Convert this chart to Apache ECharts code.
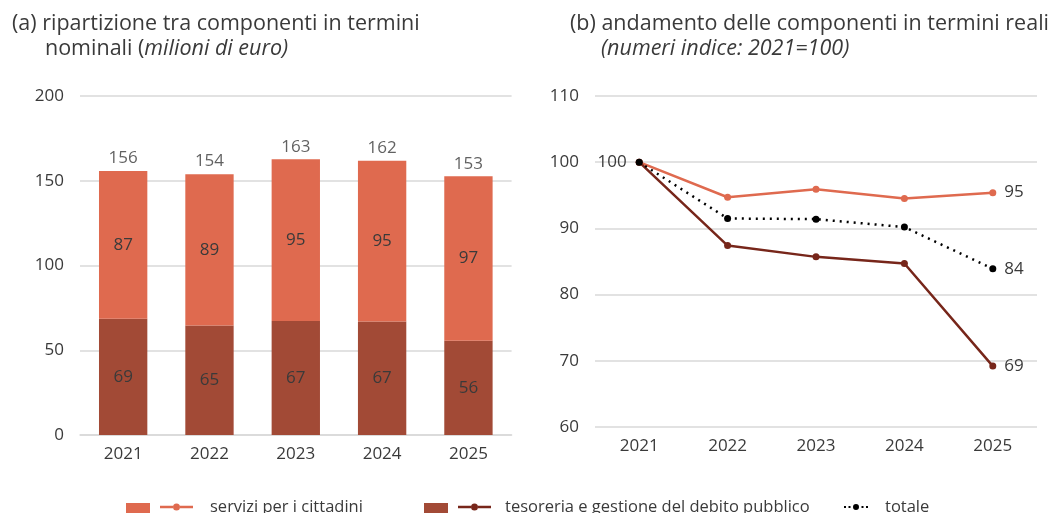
<!DOCTYPE html>
<html>
<head>
<meta charset="utf-8">
<script src="https://cdn.jsdelivr.net/npm/echarts@6/dist/echarts.min.js"></script>
<style>
html,body{margin:0;padding:0;background:#fff;}
#c{width:1051px;height:513px;}
</style>
</head>
<body>
<div id="c"></div>
<script>
// ---- data ----
const years = ['2021', '2022', '2023', '2024', '2025'];
const barServizi = [87.2, 89.3, 95.4, 94.9, 97.1];
const barTesoreria = [68.6, 64.6, 67.3, 66.9, 55.6];
const idxServizi = [100, 94.7, 95.9, 94.5, 95.4];
const idxTesoreria = [100, 87.4, 85.7, 84.7, 69.2];
const idxTotale = [100, 91.5, 91.4, 90.2, 83.9];
const leftTicks = [0, 50, 100, 150, 200];
const rightTicks = [60, 70, 80, 90, 100, 110];

const nameServ = 'servizi per i cittadini';
const nameTes = 'tesoreria e gestione del debito pubblico';
const nameTot = 'totale';
const SFX = ' (indice)';

const C_SERV = '#DF6A4F';
const C_TES = '#A24A36';
const C_TES_LINE = '#77261A';
const TXT = '#3a3a3a';
const FONT = '"Open Sans", sans-serif';
const GRIDC = '#d9d9d9';
const FS = 17;

const totals = barServizi.map((v, i) => v + barTesoreria[i]);

// legend icon shapes
const ICON_LINE = 'path://M0,4.8 L13,4.8 L13,7.2 L0,7.2 Z M20,4.8 L33,4.8 L33,7.2 L20,7.2 Z M13,6 A3.5,3.5 0 1,1 20,6 A3.5,3.5 0 1,1 13,6 Z';
const ICON_DOT = 'path://M0,5 L2,5 L2,7 L0,7 Z M4.5,5 L6.5,5 L6.5,7 L4.5,7 Z M17.5,5 L19.5,5 L19.5,7 L17.5,7 Z M22,5 L24,5 L24,7 L22,7 Z M9,6 A3,3 0 1,1 15,6 A3,3 0 1,1 9,6 Z';

const chart = echarts.init(document.getElementById('c'));

function legendItem(name, left, top, text, icon, w, h, gap) {
  return {
    data: [name],
    left: left,
    top: top,
    padding: 0,
    icon: icon,
    itemWidth: w,
    itemHeight: h,
    selectedMode: false,
    textStyle: { color: TXT, fontFamily: FONT, fontSize: 16.5, lineHeight: 20, padding: [0, 0, 0, gap] },
    formatter: () => text
  };
}

chart.setOption({
  animation: false,
  textStyle: { fontFamily: FONT },
  title: [
    { text: '(a) ripartizione tra componenti in termini', left: 7, top: 8,
      textStyle: { color: TXT, fontFamily: FONT, fontSize: 21.5, fontWeight: 'normal' } },
    { text: '{n|nominali (}{i|milioni di euro)}', left: 40, top: 33,
      textStyle: { rich: {
        n: { color: TXT, fontFamily: FONT, fontSize: 21.5, fontWeight: 'normal' },
        i: { color: TXT, fontFamily: FONT, fontSize: 21.5, fontWeight: 'normal', fontStyle: 'italic' } } } },
    { text: '(b) andamento delle componenti in termini reali', left: 565, top: 8,
      textStyle: { color: TXT, fontFamily: FONT, fontSize: 21.5, fontWeight: 'normal' } },
    { text: '(numeri indice: 2021=100)', left: 596, top: 33,
      textStyle: { color: TXT, fontFamily: FONT, fontSize: 21.5, fontWeight: 'normal', fontStyle: 'italic' } }
  ],
  legend: [
    legendItem(nameServ, 126, 503, '', 'rect', 24, 10, 0),
    legendItem(nameServ + SFX, 160, 497, nameServ, ICON_LINE, 33, 7, 12),
    legendItem(nameTes, 424, 503, '', 'rect', 24, 10, 0),
    legendItem(nameTes + SFX, 458, 497, nameTes, ICON_LINE, 33, 7, 9),
    legendItem(nameTot, 844, 497, nameTot, ICON_DOT, 24, 6, 12)
  ],
  grid: [
    { left: 80, right: 1051 - 511.6, top: 96, bottom: 513 - 435 },
    { left: 595, right: 1051 - 1037, top: 96, bottom: 513 - 427 }
  ],
  xAxis: [
    { type: 'category', gridIndex: 0, data: years,
      axisLine: { lineStyle: { color: GRIDC, width: 1.5 } }, axisTick: { show: false },
      axisLabel: { color: TXT, fontSize: FS, margin: 11, fontFamily: FONT } },
    { type: 'category', gridIndex: 1, data: years,
      axisLine: { show: false }, axisTick: { show: false },
      axisLabel: { color: TXT, fontSize: FS, margin: 11, fontFamily: FONT } }
  ],
  yAxis: [
    { type: 'value', gridIndex: 0, min: leftTicks[0], max: leftTicks[leftTicks.length - 1], interval: 50,
      axisLine: { show: false }, axisTick: { show: false },
      splitLine: { lineStyle: { color: GRIDC, width: 1.5 } },
      axisLabel: { color: TXT, fontSize: FS, margin: 16, fontFamily: FONT } },
    { type: 'value', gridIndex: 1, min: rightTicks[0], max: rightTicks[rightTicks.length - 1], interval: 10,
      axisLine: { show: false }, axisTick: { show: false },
      splitLine: { lineStyle: { color: GRIDC, width: 1.5 } },
      axisLabel: { color: TXT, fontSize: FS, margin: 16, fontFamily: FONT } }
  ],
  series: [
    { name: nameTes, type: 'bar', stack: 'a', xAxisIndex: 0, yAxisIndex: 0,
      data: barTesoreria, barWidth: '56%',
      itemStyle: { color: C_TES },
      label: { show: true, position: 'inside', color: TXT, fontSize: FS, fontFamily: FONT,
        formatter: p => Math.round(p.value) } },
    { name: nameServ, type: 'bar', stack: 'a', xAxisIndex: 0, yAxisIndex: 0,
      data: barServizi, barWidth: '56%',
      itemStyle: { color: C_SERV },
      label: { show: true, position: 'inside', color: TXT, fontSize: FS, fontFamily: FONT,
        formatter: p => Math.round(p.value) } },
    { name: 'totali', type: 'scatter', xAxisIndex: 0, yAxisIndex: 0,
      data: totals, symbolSize: 0, silent: true,
      label: { show: true, position: 'top', distance: 4, color: TXT, fontSize: FS, fontFamily: FONT,
        formatter: p => Math.round(p.value) } },
    { name: nameServ + SFX, type: 'line', xAxisIndex: 1, yAxisIndex: 1,
      data: idxServizi, symbol: 'circle', symbolSize: 7, z: 3,
      lineStyle: { color: C_SERV, width: 2.5 }, itemStyle: { color: C_SERV },
      label: { show: true, color: TXT, fontSize: FS, fontFamily: FONT,
        position: 'right', distance: 8,
        formatter: p => (p.dataIndex === idxServizi.length - 1 ? Math.round(p.value) : '') } },
    { name: nameTes + SFX, type: 'line', xAxisIndex: 1, yAxisIndex: 1,
      data: idxTesoreria, symbol: 'circle', symbolSize: 7, z: 3,
      lineStyle: { color: C_TES_LINE, width: 2.5 }, itemStyle: { color: C_TES_LINE },
      label: { show: true, color: TXT, fontSize: FS, fontFamily: FONT,
        position: 'right', distance: 8,
        formatter: p => (p.dataIndex === idxTesoreria.length - 1 ? Math.round(p.value) : '') } },
    { name: nameTot, type: 'line', xAxisIndex: 1, yAxisIndex: 1,
      data: idxTotale.map((v, i) => i === 0
        ? { value: v, label: { show: true, position: 'left', distance: 9, formatter: p => Math.round(p.value) } }
        : v),
      symbol: 'circle', symbolSize: 7, z: 4,
      lineStyle: { color: '#000', width: 2.5, type: [2, 5] }, itemStyle: { color: '#000' },
      label: { show: true, color: TXT, fontSize: FS, fontFamily: FONT,
        position: 'right', distance: 8,
        formatter: p => (p.dataIndex === idxTotale.length - 1 ? Math.round(p.value) : '') } }
  ]
});
</script>
</body>
</html>
